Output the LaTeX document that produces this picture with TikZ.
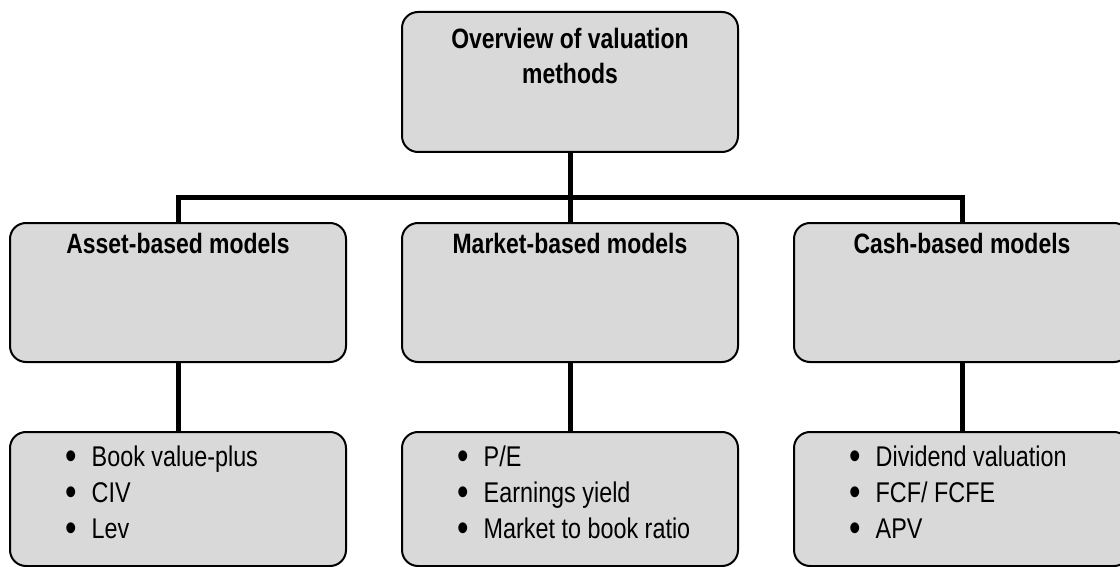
\documentclass[tikz,border=0pt]{standalone}
\usepackage{fontspec}
\setmainfont{Liberation Sans}[FakeStretch=0.82]
\begin{document}
\begin{tikzpicture}[x=1pt,y=-1pt,
  box/.style={draw=black, line width=2pt, fill=boxgray, rounded corners=16pt,
    minimum width=336pt, inner sep=0pt},
  title/.style={font=\bfseries\fontsize{28}{35}\selectfont, inner sep=0pt, align=center},
  items/.style={font=\fontsize{28.5}{36}\selectfont, inner sep=0pt, anchor=base west},
  conn/.style={line width=5pt, draw=black}]
\definecolor{boxgray}{HTML}{D9D9D9}
\useasboundingbox (0,0) rectangle (1120,567);
\clip (0,0) rectangle (1120,567);

% connector anchor points
\coordinate (rootS) at (570,152);
\coordinate (bus) at (570,198);

% root box
\node[box, minimum height=140pt] (root) at (570,82) {};
\node[title, anchor=north] (rootT) at (570,28) {Overview of valuation\\methods};

% model family boxes
\node[box, minimum height=139pt] (asset)  at (178,292.5) {};
\node[box, minimum height=139pt] (market) at (570,292.5) {};
\node[box, minimum height=139pt] (cash)   at (962,292.5) {};
\node[title, anchor=base] (assetT)  at ([yshift=-32pt]asset.north)  {Asset-based models};
\node[title, anchor=base] (marketT) at ([yshift=-32pt]market.north) {Market-based models};
\node[title, anchor=base] (cashT)   at ([yshift=-32pt]cash.north)   {Cash-based models};

% method lists
\node[box, minimum height=134pt] (assetL)  at (178,499) {};
\node[box, minimum height=134pt] (marketL) at (570,499) {};
\node[box, minimum height=134pt] (cashL)   at (962,499) {};
\newcommand{\bul}{\makebox[26.5pt][l]{\raisebox{-0.12em}{\scalebox{1.4}{\textbullet}}}}
\node[items] (assetI) at ([xshift=56pt,yshift=-35pt]assetL.north west)
  {\begin{tabular}[t]{@{}l@{}}\bul Book value-plus\\ \bul CIV\\ \bul Lev\end{tabular}};
\node[items] (marketI) at ([xshift=56pt,yshift=-35pt]marketL.north west)
  {\begin{tabular}[t]{@{}l@{}}\bul P/E\\ \bul Earnings yield\\ \bul Market to book ratio\end{tabular}};
\node[items] (cashI) at ([xshift=56pt,yshift=-35pt]cashL.north west)
  {\begin{tabular}[t]{@{}l@{}}\bul Dividend valuation\\ \bul FCF/ FCFE\\ \bul APV\end{tabular}};

% connectors
\draw[conn] (root.south) -- (bus);
\draw[conn] (asset.north) |- (bus) -| (cash.north);
\draw[conn] (market.north) -- (bus);
\draw[conn] (asset.south) -- (assetL.north);
\draw[conn] (market.south) -- (marketL.north);
\draw[conn] (cash.south) -- (cashL.north);
\end{tikzpicture}
\end{document}
